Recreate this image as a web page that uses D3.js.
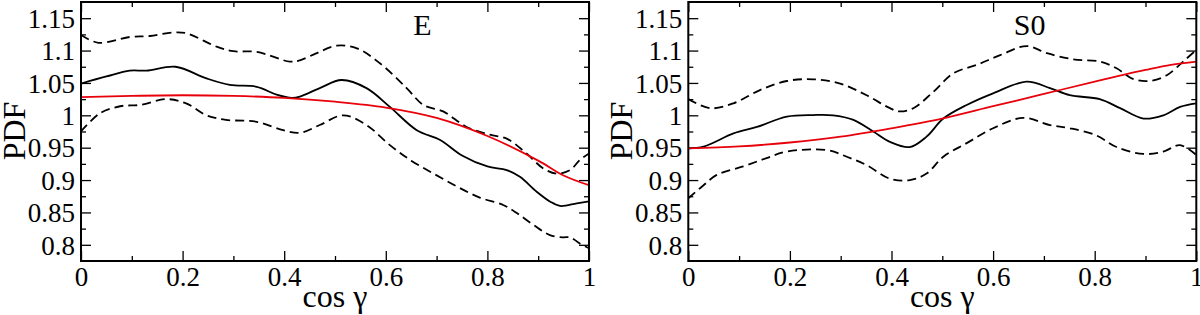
<!DOCTYPE html>
<html>
<head>
<meta charset="utf-8">
<script src="https://cdn.jsdelivr.net/npm/d3@7"></script>
<style>
  body { margin: 0; background: #fff; }
  svg text { font-family: "Liberation Serif", "DejaVu Serif", serif; fill: #000; }
</style>
</head>
<body>
<script>
// values: [cos gamma, PDF]
var eSolid = [[0,1.049],[0.05,1.060],[0.096,1.069],[0.129,1.069],[0.186,1.075],[0.247,1.057],[0.293,1.047],[0.346,1.044],
  [0.385,1.032],[0.415,1.027],[0.431,1.029],[0.470,1.042],[0.513,1.0545],[0.562,1.042],[0.608,1.013],[0.661,0.977],
  [0.707,0.962],[0.75,0.938],[0.8,0.921],[0.838,0.9155],[0.864,0.905],[0.897,0.882],[0.923,0.867],[0.943,0.860],
  [0.976,0.864],[1.0,0.867]]
var eUpper = [[0,1.124],[0.034,1.112],[0.096,1.121],[0.136,1.1225],[0.181,1.128],[0.208,1.1266],[0.267,1.106],[0.300,1.099],
  [0.346,1.098],[0.411,1.083],[0.431,1.085],[0.464,1.096],[0.503,1.1075],[0.543,1.1035],[0.589,1.080],[0.641,1.042],
  [0.674,1.016],[0.713,1.006],[0.759,0.982],[0.805,0.970],[0.838,0.964],[0.877,0.941],[0.910,0.918],[0.937,0.910],
  [0.963,0.9155],[0.982,0.931],[1.0,0.941]]
var eLower = [[0,0.975],[0.037,1.003],[0.077,1.014],[0.116,1.016],[0.169,1.025],[0.208,1.018],[0.247,1.000],[0.285,0.993],
  [0.346,0.990],[0.398,0.977],[0.431,0.973],[0.470,0.985],[0.516,1.000],[0.562,0.985],[0.608,0.954],[0.65,0.930],
  [0.694,0.910],[0.740,0.890],[0.785,0.873],[0.831,0.8615],[0.858,0.849],[0.890,0.831],[0.923,0.815],[0.949,0.8116],
  [0.963,0.8116],[0.982,0.802],[1.0,0.7946]]
var eFit = [[0,1.028],[0.1,1.030],[0.2,1.031],[0.3,1.030],[0.4,1.027],[0.5,1.021],[0.6,1.012],[0.7,0.996],
  [0.8,0.968],[0.9,0.930],[0.95,0.907],[1.0,0.892]]

var sSolid = [[0,0.949],[0.030,0.9516],[0.089,0.972],[0.135,0.982],[0.194,0.998],[0.246,1.0004],[0.285,1.0],[0.325,0.993],
  [0.364,0.975],[0.397,0.959],[0.436,0.951],[0.469,0.967],[0.502,0.995],[0.548,1.016],[0.600,1.034],[0.666,1.052],
  [0.712,1.042],[0.751,1.031],[0.810,1.025],[0.850,1.011],[0.896,0.995],[0.935,1.0],[0.968,1.013],[1.0,1.0185]]
var sUpper = [[0,1.025],[0.043,1.011],[0.089,1.0185],[0.141,1.039],[0.194,1.053],[0.246,1.0556],[0.299,1.049],[0.351,1.031],
  [0.397,1.011],[0.416,1.006],[0.443,1.011],[0.482,1.036],[0.522,1.065],[0.568,1.078],[0.614,1.093],[0.666,1.107],
  [0.706,1.096],[0.758,1.0865],[0.810,1.083],[0.843,1.0726],[0.876,1.056],[0.909,1.053],[0.942,1.062],[0.974,1.083],[1.0,1.101]]
var sLower = [[0,0.872],[0.030,0.892],[0.056,0.908],[0.108,0.921],[0.154,0.934],[0.194,0.944],[0.272,0.9464],[0.312,0.936],
  [0.351,0.923],[0.397,0.902],[0.436,0.900],[0.469,0.910],[0.502,0.936],[0.548,0.957],[0.600,0.980],[0.659,0.996],
  [0.712,0.985],[0.751,0.980],[0.803,0.969],[0.843,0.951],[0.896,0.9403],[0.935,0.944],[0.968,0.954],[1.0,0.9387]]
var sFit = [[0,0.949],[0.1,0.952],[0.2,0.958],[0.3,0.967],[0.4,0.980],[0.5,0.995],[0.6,1.014],[0.7,1.033],
  [0.8,1.052],[0.9,1.070],[0.95,1.078],[1.0,1.083]]

var xMajor = [0, 0.2, 0.4, 0.6, 0.8, 1]
var xMinor = [0.1, 0.3, 0.5, 0.7, 0.9]
var yMajor = [0.8, 0.85, 0.9, 0.95, 1, 1.05, 1.1, 1.15]
var yMinor = [0.825, 0.875, 0.925, 0.975, 1.025, 1.075, 1.125]
var yLabels = ['0.8', '0.85', '0.9', '0.95', '1', '1.05', '1.1', '1.15']
var xLabels = ['0', '0.2', '0.4', '0.6', '0.8', '1']

var panels = [
  {name: 'E', left: 81, solid: eSolid, upper: eUpper, lower: eLower, fit: eFit},
  {name: 'S0', left: 688.3, solid: sSolid, upper: sUpper, lower: sLower, fit: sFit}
]

var width = 1200, height = 315
var plotW = 508, plotTop = 2, plotBottom = 261

var svg = d3.select('body').append('svg')
    .attr('width', width)
    .attr('height', height)

panels.forEach(function(p, i) {
    var x = d3.scaleLinear().domain([0, 1]).range([p.left, p.left + plotW])
    var y = d3.scaleLinear().domain([0.775, 1.175]).range([plotBottom, plotTop])
    var g = svg.append('g')

    g.append('clipPath').attr('id', 'clip' + i)
        .append('rect')
        .attr('x', p.left).attr('y', plotTop)
        .attr('width', plotW).attr('height', plotBottom - plotTop)

    // axes with inward ticks on all four sides
    function axis(a, trans, vals, size, labels) {
        var ax = g.append('g').attr('transform', trans)
            .call(a.tickValues(vals).tickSize(size).tickPadding(0)
                .tickFormat(function(d, k) { return labels ? labels[k] : '' }))
        ax.attr('font-size', null).attr('font-family', null)
        ax.select('.domain').remove()
        ax.selectAll('line').attr('stroke', '#000').attr('stroke-width', 1.3)
        ax.selectAll('text').style('font-size', '27px')
        return ax
    }
    var xb = axis(d3.axisBottom(x), 'translate(0,' + plotBottom + ')', xMajor, -10, xLabels)
    xb.selectAll('text').attr('dy', null).attr('y', 25)
    axis(d3.axisBottom(x), 'translate(0,' + plotBottom + ')', xMinor, -5)
    axis(d3.axisTop(x), 'translate(0,' + plotTop + ')', xMajor, -10)
    axis(d3.axisTop(x), 'translate(0,' + plotTop + ')', xMinor, -5)
    var yl = axis(d3.axisLeft(y), 'translate(' + p.left + ',0)', yMajor, -10, yLabels)
    yl.selectAll('text').attr('x', -6).attr('dy', '0.34em')
    axis(d3.axisLeft(y), 'translate(' + p.left + ',0)', yMinor, -5)
    axis(d3.axisRight(y), 'translate(' + (p.left + plotW) + ',0)', yMajor, -10)
    axis(d3.axisRight(y), 'translate(' + (p.left + plotW) + ',0)', yMinor, -5)

    var line = d3.line()
        .x(function(d) { return x(d[0]) })
        .y(function(d) { return y(d[1]) })
        .curve(d3.curveCatmullRom.alpha(0.5))

    var curves = g.append('g').attr('clip-path', 'url(#clip' + i + ')')
    ;[p.upper, p.lower].forEach(function(s) {
        curves.append('path').attr('d', line(s))
            .attr('fill', 'none').attr('stroke', '#000')
            .attr('stroke-width', 1.8).attr('stroke-dasharray', '9,5')
    })
    curves.append('path').attr('d', line(p.solid))
        .attr('fill', 'none').attr('stroke', '#000').attr('stroke-width', 1.8)
    curves.append('path').attr('d', line(p.fit))
        .attr('fill', 'none').attr('stroke', '#e8000b').attr('stroke-width', 1.8)

    // frame
    g.append('rect')
        .attr('x', p.left).attr('y', plotTop)
        .attr('width', plotW).attr('height', plotBottom - plotTop)
        .attr('fill', 'none').attr('stroke', '#000').attr('stroke-width', 2)

    g.append('text')
        .attr('x', p.left + plotW * 0.672).attr('y', 35)
        .attr('text-anchor', 'middle').style('font-size', '30px')
        .text(p.name)

    g.append('text')
        .attr('transform', 'translate(' + (p.left - 56) + ',' + 131 + ') rotate(-90)')
        .attr('text-anchor', 'middle').style('font-size', '32px')
        .text('PDF')

    g.append('text')
        .attr('x', p.left + plotW / 2).attr('y', 307)
        .attr('text-anchor', 'middle').style('font-size', '32px')
        .text('cos γ')
})
</script>
</body>
</html>
